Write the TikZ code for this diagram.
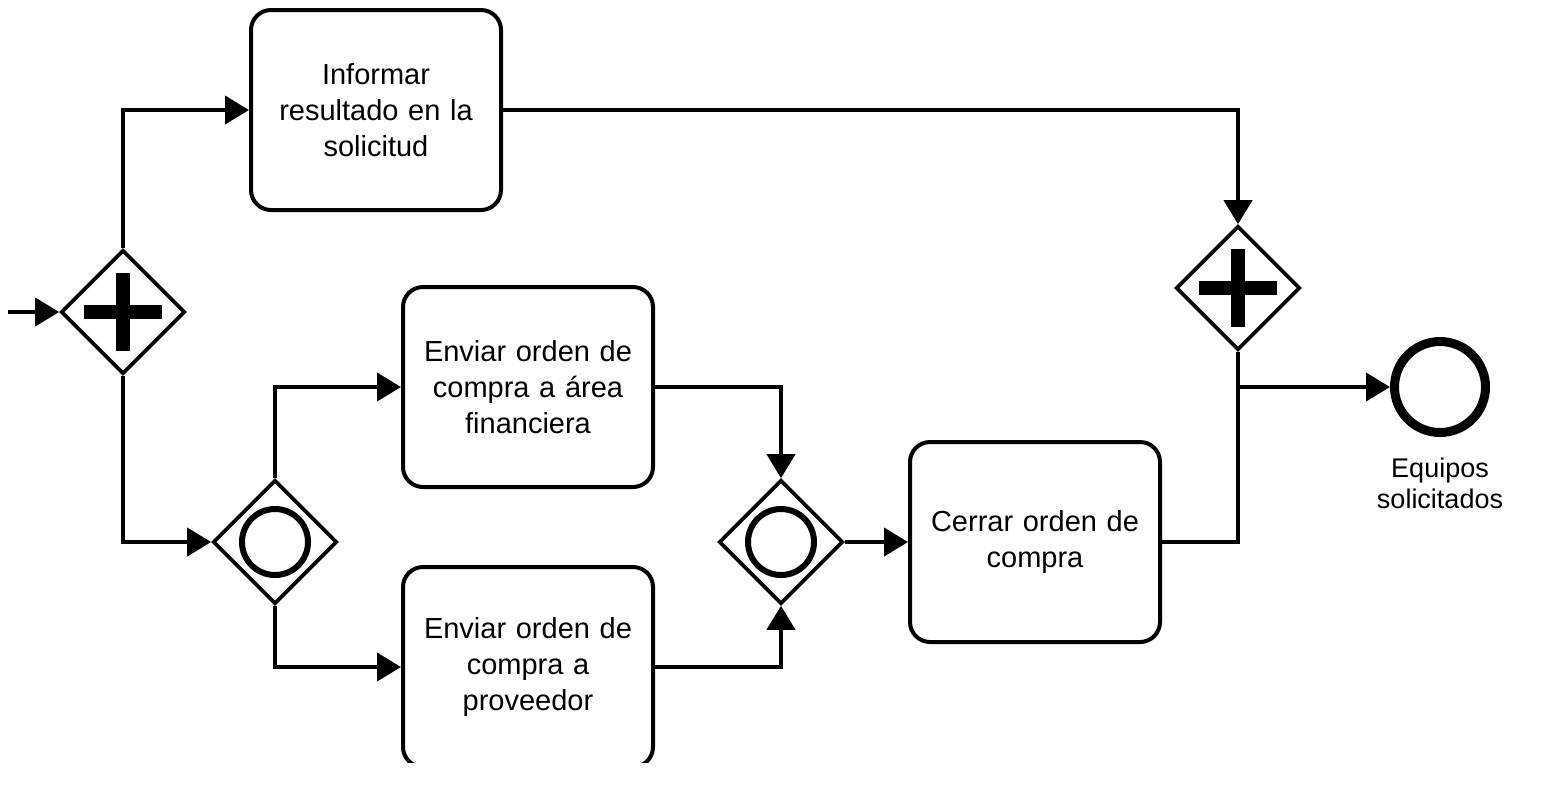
\documentclass[tikz,border=0pt]{standalone}
\usepackage{fontspec}
\setmainfont{Liberation Sans}
\usetikzlibrary{shapes.geometric,arrows.meta}

\tikzset{
  task/.style={draw,line width=2pt,rounded corners=10pt,minimum width=125pt,minimum height=100pt,
    inner sep=0pt,text width=115pt,align=center,font=\fontsize{14.5}{18}\selectfont},
  gate/.style={draw,diamond,line width=1.8pt,minimum size=62pt,inner sep=0pt},
  parallel/.style={gate,path picture={
    \fill ([shift={(-19.5pt,-3.6pt)}]path picture bounding box.center) rectangle ++(39pt,7.2pt);
    \fill ([shift={(-3.6pt,-19.5pt)}]path picture bounding box.center) rectangle ++(7.2pt,39pt);}},
  inclusive/.style={gate,path picture={
    \draw[line width=3pt] (path picture bounding box.center) circle (16.5pt);}},
  endevent/.style={draw,circle,line width=4.5pt,minimum size=45.5pt,inner sep=0pt},
  flow/.style={line width=2pt,-{Triangle[length=12pt,width=14pt]}},
  seq/.style={line width=2pt}
}

\begin{document}
\begin{tikzpicture}[x=0.5pt,y=-0.5pt]
\useasboundingbox (0,0) rectangle (1550,784);
\clip (0,0) rectangle (1550,762);

% gateways
\node[parallel] (gA) at (123,312) {};
\node[inclusive] (gS) at (275,542) {};
\node[inclusive] (gJ) at (781,542) {};
\node[parallel] (gB) at (1238,288) {};

% tasks
\node[task] (inf) at (376,110) {Informar\\resultado en la\\solicitud};
\node[task] (fin1) at (528,387) {Enviar orden de\\compra a área\\financiera};
\node[task] (prov) at (528,667) {Enviar orden de\\compra a\\proveedor};
\node[task] (cer) at (1035,542) {Cerrar orden de\\compra};

% end
\node[endevent] (fin) at (1440,387) {};
\node[align=center,font=\fontsize{13.5}{15.5}\selectfont] (eq) at (1440,483) {Equipos\\solicitados};

\coordinate (in) at (8,312);

% flows
\draw[flow] (in) -- (gA.west);
\draw[flow] (gA.north) |- (inf.west);
\draw[flow] (gA.south) |- (gS.west);
\draw[flow] (gS.north) |- (fin1.west);
\draw[flow] (gS.south) |- (prov.west);
\draw[flow] (fin1.east) -| (gJ.north);
\draw[flow] (prov.east) -| (gJ.south);
\draw[flow] (gJ.east) -- (cer.west);
\draw[flow] (inf.east) -| (gB.north);
\draw[seq] (cer.east) -| (gB.south);
\draw[flow] (gB.south) |- (fin.west);
\end{tikzpicture}
\end{document}
